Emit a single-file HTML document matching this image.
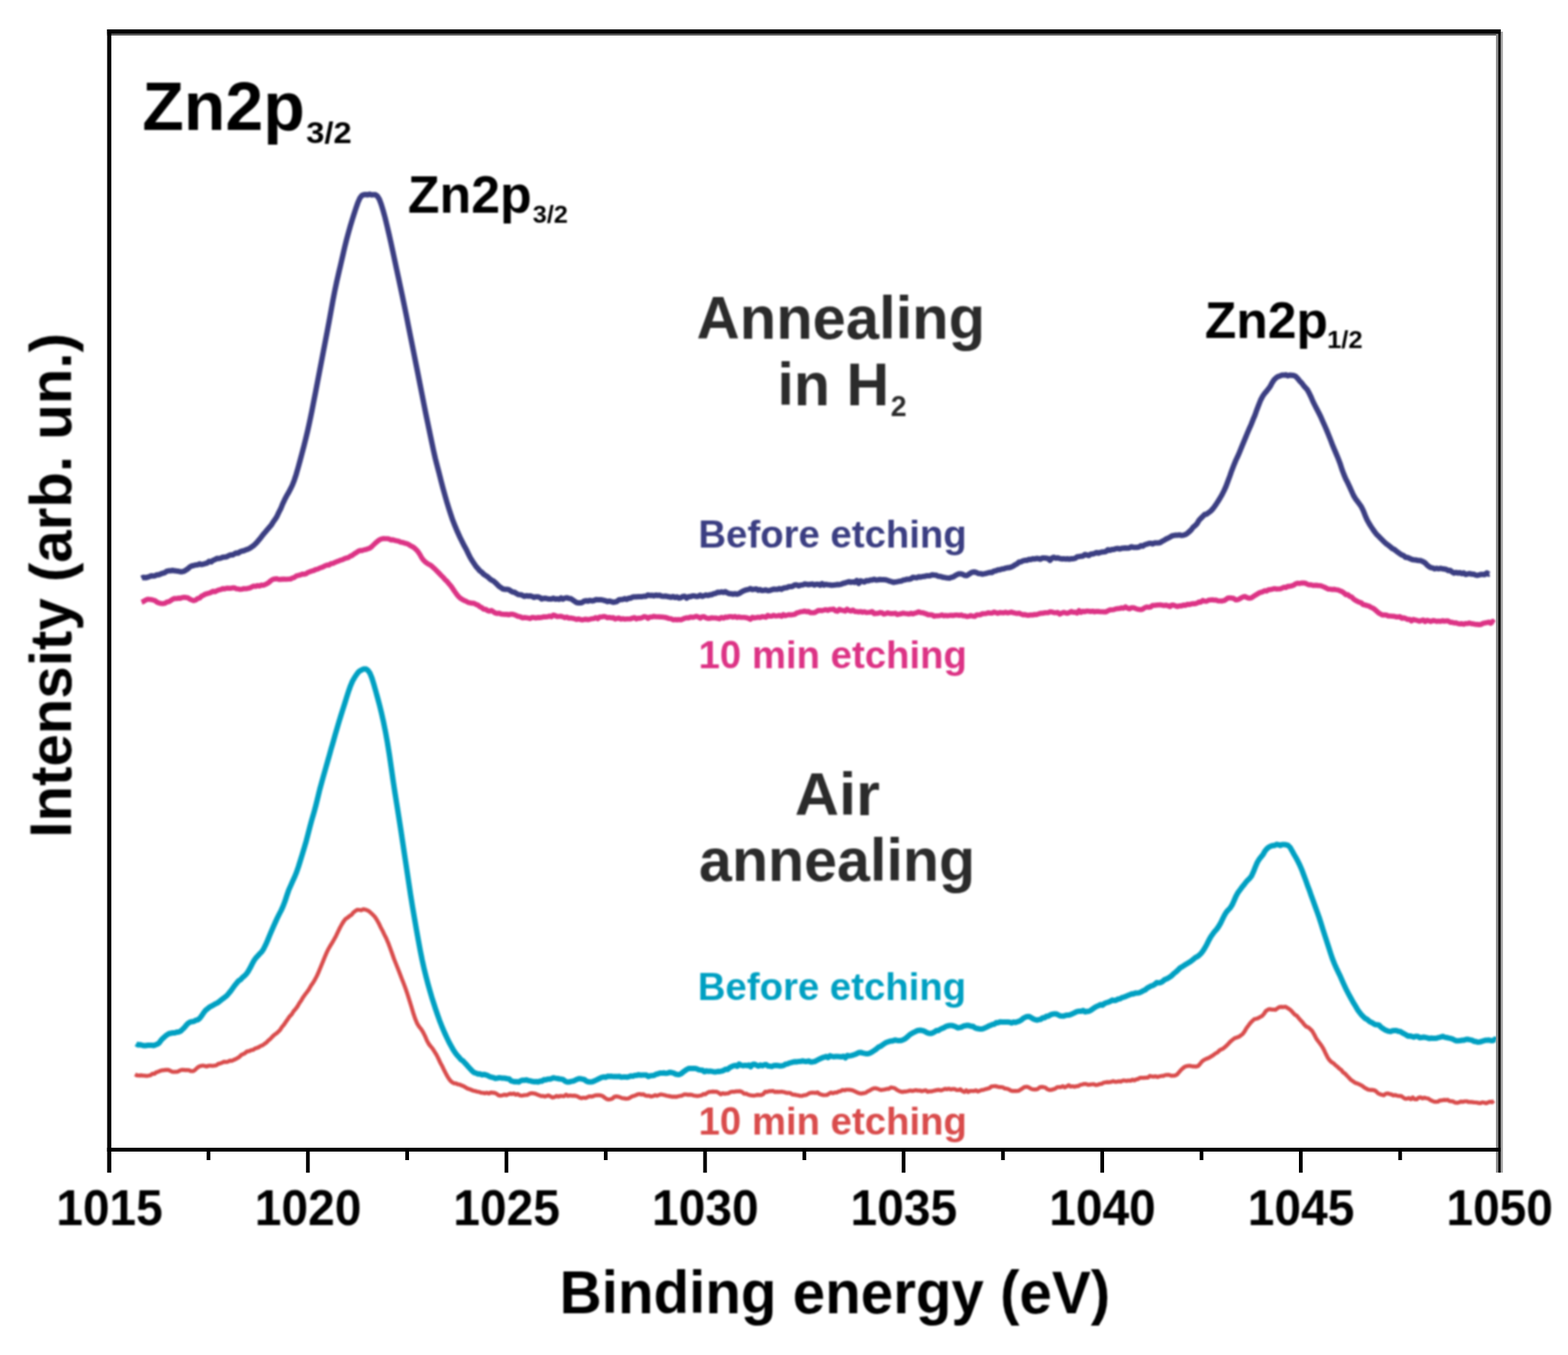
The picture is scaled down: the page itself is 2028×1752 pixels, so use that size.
<!DOCTYPE html>
<html lang="en">
<head>
<meta charset="utf-8">
<title>Zn2p XPS spectra</title>
<style>
html,body{margin:0;padding:0;background:#fff;}
body{width:2028px;height:1752px;overflow:hidden;font-family:"Liberation Sans",sans-serif;}
svg{display:block;}
.soft{filter:blur(0.8px);}
</style>
</head>
<body>
<svg width="2028" height="1752" viewBox="0 0 2028 1752">
<rect x="0" y="0" width="2028" height="1752" fill="#ffffff"/>
<g class="soft" fill="none" stroke-linejoin="round" stroke-linecap="butt">
<path d="M174.7,1388.9 L177.2,1390.4 L179.7,1390.7 L182.2,1390.4 L184.7,1390.7 L187.2,1390.8 L189.7,1391.2 L192.2,1390.8 L194.7,1390.3 L197.2,1388.3 L199.7,1388.4 L202.2,1386.4 L204.7,1385.7 L207.2,1384.6 L209.7,1383.9 L212.2,1383.7 L214.7,1383.4 L217.2,1383.3 L219.7,1384.2 L222.2,1385.6 L224.7,1386.0 L227.2,1385.8 L229.7,1385.7 L232.2,1384.4 L234.7,1383.4 L237.2,1383.4 L239.7,1383.6 L242.2,1383.5 L244.7,1383.9 L247.2,1385.0 L249.7,1384.9 L252.2,1383.5 L254.7,1381.0 L257.2,1379.1 L259.7,1378.2 L262.2,1377.8 L264.7,1378.3 L267.2,1379.0 L269.7,1378.0 L272.2,1377.8 L274.7,1378.2 L277.2,1377.8 L279.7,1377.5 L282.2,1375.6 L284.7,1375.0 L287.2,1374.1 L289.7,1372.8 L292.2,1373.1 L294.7,1372.8 L297.2,1371.4 L299.7,1371.7 L302.2,1370.5 L304.7,1369.4 L307.2,1368.0 L309.7,1366.5 L312.2,1363.9 L314.7,1362.9 L317.2,1361.4 L319.7,1359.4 L322.2,1359.1 L324.7,1357.9 L327.2,1357.5 L329.7,1355.8 L332.2,1355.0 L334.7,1354.0 L337.2,1352.4 L339.7,1351.5 L342.2,1349.7 L344.7,1347.9 L347.2,1345.3 L349.7,1343.2 L352.2,1340.5 L354.7,1338.1 L357.2,1336.4 L359.7,1334.3 L362.2,1331.7 L364.7,1327.9 L367.2,1325.0 L369.7,1321.3 L372.2,1317.7 L374.7,1314.1 L377.2,1311.6 L379.7,1307.6 L382.2,1304.8 L384.7,1301.4 L387.2,1297.0 L389.7,1293.4 L392.2,1289.2 L394.7,1285.8 L397.2,1282.5 L399.7,1279.1 L402.2,1274.6 L404.7,1271.0 L407.2,1266.8 L409.7,1262.1 L412.2,1256.6 L414.7,1250.5 L417.2,1244.5 L419.7,1238.2 L422.2,1232.4 L424.7,1227.2 L427.2,1222.9 L429.7,1218.8 L432.2,1214.5 L434.7,1209.9 L437.2,1204.6 L439.7,1199.5 L442.2,1195.0 L444.7,1191.0 L447.2,1187.9 L449.7,1186.4 L452.2,1184.4 L454.7,1182.8 L457.2,1179.7 L459.7,1177.7 L462.2,1176.4 L464.7,1176.5 L467.2,1177.0 L469.7,1175.7 L472.2,1176.0 L474.7,1176.9 L477.2,1178.1 L479.7,1180.4 L482.2,1182.7 L484.7,1185.3 L487.2,1188.9 L489.7,1193.4 L492.2,1198.7 L494.7,1203.4 L497.2,1208.6 L499.7,1213.5 L502.2,1219.4 L504.7,1226.2 L507.2,1233.0 L509.7,1240.1 L512.2,1246.4 L514.7,1252.6 L517.2,1259.0 L519.7,1265.6 L522.2,1271.9 L524.7,1278.6 L527.2,1286.0 L529.7,1294.0 L532.2,1302.1 L534.7,1310.4 L537.2,1317.8 L539.7,1323.6 L542.2,1327.6 L544.7,1330.6 L547.2,1334.6 L549.7,1339.6 L552.2,1345.5 L554.7,1350.0 L557.2,1353.1 L559.7,1356.1 L562.2,1360.1 L564.7,1364.1 L567.2,1369.1 L569.7,1374.6 L572.2,1379.1 L574.7,1384.3 L577.2,1389.1 L579.7,1393.5 L582.2,1397.0 L584.7,1399.3 L587.2,1400.7 L589.7,1400.9 L592.2,1402.0 L594.7,1402.4 L597.2,1403.6 L599.7,1404.4 L602.2,1405.9 L604.7,1407.4 L607.2,1408.2 L609.7,1409.3 L612.2,1410.2 L614.7,1410.8 L617.2,1411.5 L619.7,1411.8 L622.2,1412.8 L624.7,1413.0 L627.2,1413.6 L629.7,1412.9 L632.2,1413.9 L634.7,1412.7 L637.2,1412.8 L639.7,1413.1 L642.2,1414.2 L644.7,1416.1 L647.2,1416.7 L649.7,1416.3 L652.2,1415.3 L654.7,1416.1 L657.2,1415.1 L659.7,1414.1 L662.2,1414.6 L664.7,1413.9 L667.2,1415.4 L669.7,1414.6 L672.2,1416.2 L674.7,1416.7 L677.2,1416.2 L679.7,1416.0 L682.2,1415.7 L684.7,1414.3 L687.2,1413.6 L689.7,1413.7 L692.2,1414.1 L694.7,1415.2 L697.2,1416.1 L699.7,1417.1 L702.2,1417.0 L704.7,1417.9 L707.2,1417.0 L709.7,1416.4 L712.2,1417.8 L714.7,1419.1 L717.2,1418.4 L719.7,1417.0 L722.2,1418.0 L724.7,1417.0 L727.2,1417.2 L729.7,1417.3 L732.2,1415.3 L734.7,1417.1 L737.2,1416.4 L739.7,1416.8 L742.2,1416.7 L744.7,1416.9 L747.2,1417.7 L749.7,1419.2 L752.2,1419.9 L754.7,1419.3 L757.2,1419.7 L759.7,1418.8 L762.2,1417.5 L764.7,1417.9 L767.2,1417.4 L769.7,1416.4 L772.2,1416.2 L774.7,1416.1 L777.2,1416.3 L779.7,1417.4 L782.2,1419.4 L784.7,1421.0 L787.2,1421.7 L789.7,1421.3 L792.2,1420.4 L794.7,1418.0 L797.2,1417.6 L799.7,1418.0 L802.2,1418.9 L804.7,1419.9 L807.2,1420.1 L809.7,1420.6 L812.2,1420.5 L814.7,1419.4 L817.2,1417.8 L819.7,1417.1 L822.2,1416.1 L824.7,1415.0 L827.2,1414.5 L829.7,1415.3 L832.2,1414.9 L834.7,1416.5 L837.2,1416.9 L839.7,1416.8 L842.2,1417.8 L844.7,1417.3 L847.2,1416.0 L849.7,1416.9 L852.2,1415.9 L854.7,1415.0 L857.2,1415.5 L859.7,1416.0 L862.2,1416.7 L864.7,1417.1 L867.2,1417.6 L869.7,1418.1 L872.2,1417.9 L874.7,1418.3 L877.2,1417.5 L879.7,1417.0 L882.2,1416.6 L884.7,1415.2 L887.2,1415.0 L889.7,1415.6 L892.2,1415.3 L894.7,1415.6 L897.2,1416.5 L899.7,1416.8 L902.2,1417.2 L904.7,1416.7 L907.2,1416.3 L909.7,1414.6 L912.2,1415.0 L914.7,1413.0 L917.2,1411.8 L919.7,1411.7 L922.2,1411.4 L924.7,1411.7 L927.2,1411.7 L929.7,1413.1 L932.2,1415.0 L934.7,1413.5 L937.2,1414.3 L939.7,1413.9 L942.2,1413.7 L944.7,1412.0 L947.2,1411.5 L949.7,1411.7 L952.2,1411.0 L954.7,1411.2 L957.2,1410.9 L959.7,1411.9 L962.2,1414.2 L964.7,1414.0 L967.2,1415.1 L969.7,1416.0 L972.2,1416.3 L974.7,1416.7 L977.2,1416.2 L979.7,1415.6 L982.2,1415.8 L984.7,1415.9 L987.2,1414.7 L989.7,1411.5 L992.2,1411.9 L994.7,1410.8 L997.2,1410.9 L999.7,1410.5 L1002.2,1411.9 L1004.7,1411.6 L1007.2,1411.8 L1009.7,1411.6 L1012.2,1411.7 L1014.7,1412.2 L1017.2,1413.1 L1019.7,1413.2 L1022.2,1413.4 L1024.7,1415.1 L1027.2,1415.3 L1029.7,1415.9 L1032.2,1416.3 L1034.7,1416.9 L1037.2,1417.0 L1039.7,1416.1 L1042.2,1416.0 L1044.7,1414.7 L1047.2,1413.3 L1049.7,1412.9 L1052.2,1412.8 L1054.7,1413.2 L1057.2,1412.4 L1059.7,1414.4 L1062.2,1415.3 L1064.7,1415.9 L1067.2,1416.0 L1069.7,1415.7 L1072.2,1414.1 L1074.7,1412.7 L1077.2,1413.7 L1079.7,1412.7 L1082.2,1412.7 L1084.7,1411.3 L1087.2,1410.9 L1089.7,1409.3 L1092.2,1409.8 L1094.7,1409.0 L1097.2,1409.0 L1099.7,1409.2 L1102.2,1409.6 L1104.7,1410.7 L1107.2,1411.8 L1109.7,1413.1 L1112.2,1413.8 L1114.7,1413.9 L1117.2,1413.4 L1119.7,1413.0 L1122.2,1411.2 L1124.7,1410.1 L1127.2,1408.5 L1129.7,1407.3 L1132.2,1407.0 L1134.7,1407.7 L1137.2,1408.7 L1139.7,1409.4 L1142.2,1409.0 L1144.7,1408.6 L1147.2,1407.9 L1149.7,1407.8 L1152.2,1406.0 L1154.7,1406.5 L1157.2,1407.0 L1159.7,1408.9 L1162.2,1410.3 L1164.7,1411.4 L1167.2,1411.9 L1169.7,1411.4 L1172.2,1411.3 L1174.7,1410.8 L1177.2,1410.0 L1179.7,1410.6 L1182.2,1410.1 L1184.7,1409.5 L1187.2,1410.2 L1189.7,1410.0 L1192.2,1411.0 L1194.7,1410.2 L1197.2,1409.7 L1199.7,1411.6 L1202.2,1411.1 L1204.7,1411.1 L1207.2,1410.5 L1209.7,1409.9 L1212.2,1409.4 L1214.7,1409.2 L1217.2,1409.9 L1219.7,1409.0 L1222.2,1407.8 L1224.7,1408.5 L1227.2,1407.6 L1229.7,1408.7 L1232.2,1408.0 L1234.7,1408.1 L1237.2,1409.3 L1239.7,1409.5 L1242.2,1408.5 L1244.7,1410.7 L1247.2,1411.9 L1249.7,1409.8 L1252.2,1412.0 L1254.7,1410.5 L1257.2,1410.6 L1259.7,1410.7 L1262.2,1409.8 L1264.7,1411.3 L1267.2,1410.4 L1269.7,1409.4 L1272.2,1409.2 L1274.7,1408.2 L1277.2,1407.6 L1279.7,1406.9 L1282.2,1404.9 L1284.7,1404.5 L1287.2,1404.4 L1289.7,1404.9 L1292.2,1405.6 L1294.7,1405.5 L1297.2,1406.0 L1299.7,1407.5 L1302.2,1407.7 L1304.7,1408.4 L1307.2,1409.9 L1309.7,1410.7 L1312.2,1410.5 L1314.7,1410.6 L1317.2,1410.5 L1319.7,1409.0 L1322.2,1407.5 L1324.7,1405.6 L1327.2,1405.2 L1329.7,1405.5 L1332.2,1406.9 L1334.7,1408.3 L1337.2,1408.7 L1339.7,1408.7 L1342.2,1408.0 L1344.7,1405.9 L1347.2,1405.4 L1349.7,1405.7 L1352.2,1406.3 L1354.7,1408.4 L1357.2,1409.3 L1359.7,1409.2 L1362.2,1408.4 L1364.7,1407.8 L1367.2,1405.8 L1369.7,1405.5 L1372.2,1405.6 L1374.7,1404.4 L1377.2,1406.0 L1379.7,1404.7 L1382.2,1403.1 L1384.7,1405.0 L1387.2,1404.5 L1389.7,1405.2 L1392.2,1404.4 L1394.7,1404.4 L1397.2,1402.7 L1399.7,1402.3 L1402.2,1401.6 L1404.7,1401.6 L1407.2,1402.6 L1409.7,1402.3 L1412.2,1402.0 L1414.7,1401.8 L1417.2,1403.0 L1419.7,1402.6 L1422.2,1401.7 L1424.7,1401.5 L1427.2,1400.0 L1429.7,1399.5 L1432.2,1399.1 L1434.7,1399.3 L1437.2,1398.9 L1439.7,1397.9 L1442.2,1398.8 L1444.7,1398.7 L1447.2,1398.0 L1449.7,1398.6 L1452.2,1397.2 L1454.7,1397.2 L1457.2,1397.6 L1459.7,1397.0 L1462.2,1397.5 L1464.7,1396.0 L1467.2,1397.0 L1469.7,1395.6 L1472.2,1395.1 L1474.7,1393.6 L1477.2,1393.7 L1479.7,1393.6 L1482.2,1393.4 L1484.7,1393.4 L1487.2,1391.2 L1489.7,1391.9 L1492.2,1392.1 L1494.7,1391.6 L1497.2,1392.7 L1499.7,1391.7 L1502.2,1391.2 L1504.7,1391.2 L1507.2,1390.0 L1509.7,1389.8 L1512.2,1389.8 L1514.7,1390.8 L1517.2,1390.8 L1519.7,1390.7 L1522.2,1389.5 L1524.7,1386.6 L1527.2,1383.7 L1529.7,1381.4 L1532.2,1379.4 L1534.7,1378.5 L1537.2,1378.2 L1539.7,1378.2 L1542.2,1378.8 L1544.7,1378.9 L1547.2,1379.1 L1549.7,1378.2 L1552.2,1375.4 L1554.7,1372.4 L1557.2,1370.5 L1559.7,1369.2 L1562.2,1368.3 L1564.7,1367.1 L1567.2,1365.6 L1569.7,1363.8 L1572.2,1362.0 L1574.7,1360.7 L1577.2,1358.1 L1579.7,1356.8 L1582.2,1355.6 L1584.7,1353.5 L1587.2,1351.2 L1589.7,1348.4 L1592.2,1346.0 L1594.7,1344.0 L1597.2,1342.2 L1599.7,1341.4 L1602.2,1340.6 L1604.7,1338.8 L1607.2,1337.0 L1609.7,1333.6 L1612.2,1329.3 L1614.7,1326.0 L1617.2,1322.6 L1619.7,1320.1 L1622.2,1317.8 L1624.7,1317.2 L1627.2,1316.4 L1629.7,1315.0 L1632.2,1313.7 L1634.7,1311.0 L1637.2,1307.2 L1639.7,1305.6 L1642.2,1304.8 L1644.7,1305.4 L1647.2,1305.4 L1649.7,1305.6 L1652.2,1303.7 L1654.7,1302.1 L1657.2,1301.8 L1659.7,1302.1 L1662.2,1301.7 L1664.7,1302.9 L1667.2,1304.4 L1669.7,1306.5 L1672.2,1309.2 L1674.7,1311.9 L1677.2,1313.3 L1679.7,1316.4 L1682.2,1319.3 L1684.7,1321.9 L1687.2,1325.2 L1689.7,1327.5 L1692.2,1328.4 L1694.7,1330.7 L1697.2,1333.2 L1699.7,1337.5 L1702.2,1342.4 L1704.7,1346.0 L1707.2,1349.3 L1709.7,1352.8 L1712.2,1357.1 L1714.7,1362.5 L1717.2,1367.4 L1719.7,1370.9 L1722.2,1373.4 L1724.7,1374.7 L1727.2,1377.3 L1729.7,1379.2 L1732.2,1381.7 L1734.7,1383.4 L1737.2,1386.6 L1739.7,1388.2 L1742.2,1391.0 L1744.7,1393.5 L1747.2,1396.3 L1749.7,1397.9 L1752.2,1399.8 L1754.7,1400.7 L1757.2,1401.7 L1759.7,1402.8 L1762.2,1404.2 L1764.7,1406.3 L1767.2,1407.6 L1769.7,1408.9 L1772.2,1409.3 L1774.7,1409.2 L1777.2,1409.6 L1779.7,1410.9 L1782.2,1413.6 L1784.7,1414.7 L1787.2,1415.5 L1789.7,1416.1 L1792.2,1414.3 L1794.7,1413.8 L1797.2,1414.5 L1799.7,1415.1 L1802.2,1416.3 L1804.7,1415.9 L1807.2,1416.7 L1809.7,1417.2 L1812.2,1417.1 L1814.7,1418.9 L1817.2,1420.6 L1819.7,1420.6 L1822.2,1419.8 L1824.7,1421.4 L1827.2,1419.0 L1829.7,1421.2 L1832.2,1421.4 L1834.7,1419.3 L1837.2,1418.9 L1839.7,1420.2 L1842.2,1419.3 L1844.7,1420.0 L1847.2,1420.3 L1849.7,1422.2 L1852.2,1423.4 L1854.7,1424.4 L1857.2,1424.6 L1859.7,1424.5 L1862.2,1422.8 L1864.7,1422.8 L1867.2,1422.2 L1869.7,1422.3 L1872.2,1422.0 L1874.7,1423.7 L1877.2,1423.8 L1879.7,1424.4 L1882.2,1425.7 L1884.7,1426.0 L1887.2,1425.2 L1889.7,1424.3 L1892.2,1424.6 L1894.7,1424.0 L1897.2,1424.0 L1899.7,1425.0 L1902.2,1424.9 L1904.7,1425.1 L1907.2,1425.5 L1909.7,1425.5 L1912.2,1426.2 L1914.7,1426.4 L1917.2,1425.3 L1919.7,1425.7 L1922.2,1426.5 L1924.7,1425.4 L1927.2,1424.5 L1929.7,1425.2 L1932.1,1423.3" stroke="#d94c4c" stroke-width="5.2"/>
<path d="M176.0,1349.6 L178.5,1351.1 L181.0,1350.7 L183.5,1351.4 L186.0,1352.0 L188.5,1351.9 L191.0,1351.6 L193.5,1351.6 L196.0,1351.5 L198.5,1351.9 L201.0,1351.1 L203.5,1350.1 L206.0,1348.3 L208.5,1344.7 L211.0,1342.2 L213.5,1340.1 L216.0,1338.1 L218.5,1336.5 L221.0,1336.0 L223.5,1335.5 L226.0,1335.5 L228.5,1334.6 L231.0,1334.4 L233.5,1333.3 L236.0,1331.0 L238.5,1328.7 L241.0,1325.5 L243.5,1322.9 L246.0,1321.4 L248.5,1321.0 L251.0,1320.6 L253.5,1319.1 L256.0,1318.5 L258.5,1316.5 L261.0,1313.2 L263.5,1309.4 L266.0,1306.2 L268.5,1304.2 L271.0,1302.2 L273.5,1300.9 L276.0,1299.5 L278.5,1298.0 L281.0,1296.9 L283.5,1295.1 L286.0,1293.0 L288.5,1291.1 L291.0,1289.2 L293.5,1287.2 L296.0,1284.3 L298.5,1281.2 L301.0,1277.7 L303.5,1274.3 L306.0,1271.3 L308.5,1268.3 L311.0,1266.8 L313.5,1264.0 L316.0,1262.0 L318.5,1259.6 L321.0,1256.0 L323.5,1251.6 L326.0,1246.6 L328.5,1242.0 L331.0,1238.5 L333.5,1235.9 L336.0,1233.1 L338.5,1230.7 L341.0,1226.8 L343.5,1221.8 L346.0,1216.1 L348.5,1210.0 L351.0,1204.2 L353.5,1198.3 L356.0,1192.7 L358.5,1187.3 L361.0,1182.3 L363.5,1177.5 L366.0,1172.0 L368.5,1165.6 L371.0,1157.9 L373.5,1150.6 L376.0,1145.1 L378.5,1139.4 L381.0,1134.0 L383.5,1127.9 L386.0,1120.6 L388.5,1112.6 L391.0,1104.5 L393.5,1096.3 L396.0,1087.7 L398.5,1078.2 L401.0,1068.4 L403.5,1059.2 L406.0,1050.8 L408.5,1041.5 L411.0,1031.4 L413.5,1021.0 L416.0,1011.8 L418.5,1002.9 L421.0,994.1 L423.5,985.2 L426.0,976.6 L428.5,967.4 L431.0,959.0 L433.5,950.0 L436.0,941.4 L438.5,933.0 L441.0,924.9 L443.5,917.0 L446.0,909.1 L448.5,901.0 L451.0,893.2 L453.5,886.3 L456.0,880.5 L458.5,876.2 L461.0,872.4 L463.5,869.1 L466.0,867.1 L468.5,865.8 L471.0,864.9 L473.5,865.1 L476.0,866.9 L478.5,870.5 L481.0,876.6 L483.5,884.7 L486.0,893.6 L488.5,902.7 L491.0,912.2 L493.5,922.4 L496.0,933.6 L498.5,945.9 L501.0,959.7 L503.5,975.1 L506.0,992.2 L508.5,1009.8 L511.0,1026.1 L513.5,1041.8 L516.0,1057.6 L518.5,1073.6 L521.0,1090.2 L523.5,1106.9 L526.0,1123.6 L528.5,1140.2 L531.0,1156.7 L533.5,1172.2 L536.0,1186.8 L538.5,1201.3 L541.0,1215.4 L543.5,1228.8 L546.0,1241.3 L548.5,1252.4 L551.0,1262.7 L553.5,1272.2 L556.0,1281.0 L558.5,1289.6 L561.0,1297.3 L563.5,1305.1 L566.0,1312.4 L568.5,1319.4 L571.0,1325.8 L573.5,1331.8 L576.0,1337.5 L578.5,1342.9 L581.0,1348.1 L583.5,1352.5 L586.0,1357.0 L588.5,1360.8 L591.0,1364.1 L593.5,1366.8 L596.0,1369.9 L598.5,1371.4 L601.0,1374.1 L603.5,1376.7 L606.0,1379.7 L608.5,1382.4 L611.0,1385.0 L613.5,1387.0 L616.0,1387.7 L618.5,1388.7 L621.0,1388.6 L623.5,1389.7 L626.0,1389.2 L628.5,1389.9 L631.0,1390.8 L633.5,1392.2 L636.0,1392.8 L638.5,1393.4 L641.0,1394.4 L643.5,1394.0 L646.0,1393.4 L648.5,1393.9 L651.0,1393.9 L653.5,1394.3 L656.0,1394.8 L658.5,1395.0 L661.0,1397.6 L663.5,1398.2 L666.0,1398.7 L668.5,1398.6 L671.0,1399.0 L673.5,1397.4 L676.0,1396.7 L678.5,1396.7 L681.0,1396.3 L683.5,1397.3 L686.0,1397.6 L688.5,1398.3 L691.0,1398.7 L693.5,1398.5 L696.0,1399.0 L698.5,1397.8 L701.0,1397.9 L703.5,1396.0 L706.0,1396.3 L708.5,1395.3 L711.0,1395.3 L713.5,1394.6 L716.0,1393.6 L718.5,1394.1 L721.0,1394.5 L723.5,1395.0 L726.0,1395.3 L728.5,1395.9 L731.0,1397.9 L733.5,1398.9 L736.0,1399.0 L738.5,1398.4 L741.0,1397.9 L743.5,1396.9 L746.0,1395.7 L748.5,1394.7 L751.0,1394.8 L753.5,1395.4 L756.0,1396.0 L758.5,1398.0 L761.0,1398.8 L763.5,1399.0 L766.0,1398.8 L768.5,1397.7 L771.0,1396.6 L773.5,1395.3 L776.0,1394.2 L778.5,1392.9 L781.0,1392.6 L783.5,1392.9 L786.0,1391.6 L788.5,1391.7 L791.0,1391.6 L793.5,1392.1 L796.0,1392.1 L798.5,1392.1 L801.0,1391.7 L803.5,1392.7 L806.0,1392.6 L808.5,1392.4 L811.0,1392.8 L813.5,1392.2 L816.0,1391.1 L818.5,1391.6 L821.0,1390.4 L823.5,1390.4 L826.0,1389.5 L828.5,1390.2 L831.0,1389.9 L833.5,1390.1 L836.0,1390.1 L838.5,1391.9 L841.0,1391.0 L843.5,1390.7 L846.0,1390.4 L848.5,1389.0 L851.0,1388.5 L853.5,1387.4 L856.0,1387.6 L858.5,1387.2 L861.0,1387.8 L863.5,1387.6 L866.0,1386.6 L868.5,1386.8 L871.0,1387.4 L873.5,1388.7 L876.0,1389.2 L878.5,1389.4 L881.0,1388.3 L883.5,1386.2 L886.0,1384.4 L888.5,1382.6 L891.0,1381.5 L893.5,1381.4 L896.0,1381.5 L898.5,1381.4 L901.0,1381.9 L903.5,1383.1 L906.0,1383.5 L908.5,1383.8 L911.0,1385.8 L913.5,1384.6 L916.0,1385.2 L918.5,1384.9 L921.0,1385.4 L923.5,1385.9 L926.0,1385.9 L928.5,1385.3 L931.0,1385.4 L933.5,1384.9 L936.0,1383.9 L938.5,1382.5 L941.0,1382.8 L943.5,1380.6 L946.0,1379.2 L948.5,1378.1 L951.0,1377.6 L953.5,1378.7 L956.0,1375.8 L958.5,1377.3 L961.0,1378.0 L963.5,1377.4 L966.0,1377.8 L968.5,1377.1 L971.0,1379.2 L973.5,1376.3 L976.0,1376.0 L978.5,1377.4 L981.0,1378.5 L983.5,1377.1 L986.0,1378.0 L988.5,1376.8 L991.0,1376.5 L993.5,1378.3 L996.0,1378.6 L998.5,1379.0 L1001.0,1377.7 L1003.5,1377.5 L1006.0,1377.8 L1008.5,1378.3 L1011.0,1378.2 L1013.5,1377.6 L1016.0,1376.0 L1018.5,1375.6 L1021.0,1374.5 L1023.5,1373.8 L1026.0,1373.2 L1028.5,1372.8 L1031.0,1372.9 L1033.5,1372.4 L1036.0,1372.3 L1038.5,1371.8 L1041.0,1372.4 L1043.5,1372.4 L1046.0,1371.8 L1048.5,1373.2 L1051.0,1372.9 L1053.5,1372.6 L1056.0,1371.3 L1058.5,1370.0 L1061.0,1368.8 L1063.5,1367.7 L1066.0,1366.9 L1068.5,1365.9 L1071.0,1367.4 L1073.5,1365.1 L1076.0,1365.8 L1078.5,1366.4 L1081.0,1366.0 L1083.5,1366.1 L1086.0,1366.2 L1088.5,1366.5 L1091.0,1365.7 L1093.5,1367.7 L1096.0,1364.7 L1098.5,1365.3 L1101.0,1364.9 L1103.5,1364.2 L1106.0,1363.3 L1108.5,1362.2 L1111.0,1360.9 L1113.5,1360.8 L1116.0,1361.6 L1118.5,1362.1 L1121.0,1362.6 L1123.5,1362.2 L1126.0,1361.2 L1128.5,1359.7 L1131.0,1358.1 L1133.5,1356.3 L1136.0,1354.1 L1138.5,1353.1 L1141.0,1351.3 L1143.5,1349.6 L1146.0,1348.0 L1148.5,1347.2 L1151.0,1346.3 L1153.5,1346.1 L1156.0,1345.3 L1158.5,1344.8 L1161.0,1345.5 L1163.5,1345.6 L1166.0,1345.2 L1168.5,1344.3 L1171.0,1342.9 L1173.5,1340.8 L1176.0,1338.4 L1178.5,1336.7 L1181.0,1335.2 L1183.5,1334.1 L1186.0,1332.7 L1188.5,1332.2 L1191.0,1332.1 L1193.5,1332.6 L1196.0,1333.5 L1198.5,1335.1 L1201.0,1336.1 L1203.5,1336.2 L1206.0,1335.7 L1208.5,1334.4 L1211.0,1332.6 L1213.5,1332.5 L1216.0,1330.9 L1218.5,1329.8 L1221.0,1328.7 L1223.5,1327.1 L1226.0,1326.5 L1228.5,1325.9 L1231.0,1325.9 L1233.5,1326.6 L1236.0,1327.5 L1238.5,1328.9 L1241.0,1328.7 L1243.5,1328.1 L1246.0,1326.7 L1248.5,1326.2 L1251.0,1325.8 L1253.5,1326.1 L1256.0,1326.9 L1258.5,1327.0 L1261.0,1329.0 L1263.5,1329.8 L1266.0,1330.2 L1268.5,1330.6 L1271.0,1330.2 L1273.5,1329.2 L1276.0,1328.1 L1278.5,1326.8 L1281.0,1325.8 L1283.5,1324.6 L1286.0,1324.2 L1288.5,1322.3 L1291.0,1322.4 L1293.5,1321.3 L1296.0,1321.4 L1298.5,1321.6 L1301.0,1321.4 L1303.5,1321.4 L1306.0,1321.7 L1308.5,1322.7 L1311.0,1321.5 L1313.5,1322.1 L1316.0,1321.1 L1318.5,1320.2 L1321.0,1318.7 L1323.5,1316.6 L1326.0,1315.3 L1328.5,1314.4 L1331.0,1314.3 L1333.5,1315.6 L1336.0,1317.2 L1338.5,1318.3 L1341.0,1319.0 L1343.5,1318.4 L1346.0,1318.0 L1348.5,1316.0 L1351.0,1316.0 L1353.5,1313.9 L1356.0,1313.9 L1358.5,1312.3 L1361.0,1311.4 L1363.5,1310.9 L1366.0,1311.0 L1368.5,1312.2 L1371.0,1313.5 L1373.5,1313.8 L1376.0,1313.7 L1378.5,1312.7 L1381.0,1312.6 L1383.5,1312.2 L1386.0,1311.2 L1388.5,1310.1 L1391.0,1308.8 L1393.5,1307.9 L1396.0,1307.4 L1398.5,1307.6 L1401.0,1306.6 L1403.5,1308.3 L1406.0,1307.8 L1408.5,1307.5 L1411.0,1306.2 L1413.5,1304.4 L1416.0,1302.6 L1418.5,1301.2 L1421.0,1300.3 L1423.5,1298.9 L1426.0,1299.7 L1428.5,1297.5 L1431.0,1296.5 L1433.5,1295.8 L1436.0,1294.7 L1438.5,1293.1 L1441.0,1293.7 L1443.5,1293.3 L1446.0,1291.7 L1448.5,1291.4 L1451.0,1289.9 L1453.5,1289.3 L1456.0,1288.4 L1458.5,1287.3 L1461.0,1286.3 L1463.5,1285.1 L1466.0,1285.2 L1468.5,1284.0 L1471.0,1284.1 L1473.5,1283.6 L1476.0,1282.5 L1478.5,1281.1 L1481.0,1280.1 L1483.5,1277.8 L1486.0,1276.4 L1488.5,1274.9 L1491.0,1274.4 L1493.5,1272.8 L1496.0,1270.5 L1498.5,1270.9 L1501.0,1270.5 L1503.5,1269.1 L1506.0,1266.8 L1508.5,1265.9 L1511.0,1264.6 L1513.5,1263.1 L1516.0,1261.0 L1518.5,1258.5 L1521.0,1256.7 L1523.5,1254.4 L1526.0,1251.8 L1528.5,1250.2 L1531.0,1248.7 L1533.5,1247.0 L1536.0,1245.6 L1538.5,1244.1 L1541.0,1242.3 L1543.5,1240.4 L1546.0,1238.2 L1548.5,1237.0 L1551.0,1235.1 L1553.5,1232.7 L1556.0,1229.4 L1558.5,1225.4 L1561.0,1220.8 L1563.5,1215.7 L1566.0,1211.2 L1568.5,1207.7 L1571.0,1204.3 L1573.5,1201.6 L1576.0,1198.1 L1578.5,1193.9 L1581.0,1188.7 L1583.5,1183.7 L1586.0,1179.5 L1588.5,1176.6 L1591.0,1174.1 L1593.5,1170.2 L1596.0,1164.7 L1598.5,1159.0 L1601.0,1154.4 L1603.5,1151.0 L1606.0,1147.6 L1608.5,1144.6 L1611.0,1141.2 L1613.5,1138.3 L1616.0,1136.0 L1618.5,1132.9 L1621.0,1127.6 L1623.5,1121.3 L1626.0,1115.3 L1628.5,1111.2 L1631.0,1108.0 L1633.5,1105.0 L1636.0,1100.5 L1638.5,1097.5 L1641.0,1095.3 L1643.5,1094.1 L1646.0,1093.3 L1648.5,1093.2 L1651.0,1091.8 L1653.5,1092.3 L1656.0,1093.2 L1658.5,1091.9 L1661.0,1092.1 L1663.5,1092.3 L1666.0,1093.1 L1668.5,1095.6 L1671.0,1099.9 L1673.5,1104.5 L1676.0,1108.7 L1678.5,1113.4 L1681.0,1118.3 L1683.5,1124.1 L1686.0,1130.7 L1688.5,1137.4 L1691.0,1144.4 L1693.5,1150.9 L1696.0,1158.3 L1698.5,1165.0 L1701.0,1172.0 L1703.5,1178.9 L1706.0,1185.9 L1708.5,1193.6 L1711.0,1201.7 L1713.5,1209.5 L1716.0,1217.3 L1718.5,1224.9 L1721.0,1232.7 L1723.5,1240.2 L1726.0,1246.3 L1728.5,1252.0 L1731.0,1257.2 L1733.5,1262.3 L1736.0,1268.1 L1738.5,1273.6 L1741.0,1279.0 L1743.5,1283.9 L1746.0,1288.5 L1748.5,1293.0 L1751.0,1297.4 L1753.5,1301.4 L1756.0,1305.8 L1758.5,1309.1 L1761.0,1312.3 L1763.5,1314.8 L1766.0,1317.0 L1768.5,1318.2 L1771.0,1320.6 L1773.5,1321.9 L1776.0,1323.2 L1778.5,1324.7 L1781.0,1324.9 L1783.5,1325.4 L1786.0,1328.0 L1788.5,1329.8 L1791.0,1331.4 L1793.5,1332.4 L1796.0,1333.4 L1798.5,1333.8 L1801.0,1332.8 L1803.5,1332.6 L1806.0,1332.5 L1808.5,1333.4 L1811.0,1333.7 L1813.5,1335.4 L1816.0,1336.7 L1818.5,1338.0 L1821.0,1339.7 L1823.5,1339.4 L1826.0,1340.2 L1828.5,1341.0 L1831.0,1339.9 L1833.5,1339.9 L1836.0,1341.7 L1838.5,1341.4 L1841.0,1341.1 L1843.5,1341.3 L1846.0,1341.9 L1848.5,1342.8 L1851.0,1342.2 L1853.5,1342.5 L1856.0,1342.6 L1858.5,1342.2 L1861.0,1341.5 L1863.5,1340.8 L1866.0,1340.0 L1868.5,1341.1 L1871.0,1341.5 L1873.5,1342.1 L1876.0,1342.6 L1878.5,1343.3 L1881.0,1344.7 L1883.5,1345.7 L1886.0,1345.7 L1888.5,1345.6 L1891.0,1345.0 L1893.5,1344.9 L1896.0,1344.0 L1898.5,1343.8 L1901.0,1344.4 L1903.5,1344.9 L1906.0,1346.2 L1908.5,1346.7 L1911.0,1347.4 L1913.5,1347.2 L1916.0,1346.7 L1918.5,1345.8 L1921.0,1345.1 L1923.5,1345.1 L1926.0,1344.8 L1928.5,1345.5 L1931.0,1345.4 L1933.5,1343.8 L1934.4,1345.2" stroke="#00a0c2" stroke-width="7.0"/>
<path d="M183.1,778.6 L185.6,777.7 L188.1,776.0 L190.6,774.9 L193.1,775.0 L195.6,775.3 L198.1,775.9 L200.6,776.6 L203.1,778.6 L205.6,779.6 L208.1,780.3 L210.6,780.5 L213.1,780.1 L215.6,778.6 L218.1,778.1 L220.6,776.6 L223.1,775.0 L225.6,773.7 L228.1,774.0 L230.6,773.4 L233.1,773.6 L235.6,772.7 L238.1,772.3 L240.6,772.6 L243.1,773.0 L245.6,774.7 L248.1,775.8 L250.6,776.6 L253.1,775.9 L255.6,773.9 L258.1,773.3 L260.6,770.8 L263.1,769.7 L265.6,768.2 L268.1,767.5 L270.6,766.9 L273.1,765.9 L275.6,764.5 L278.1,765.1 L280.6,763.8 L283.1,762.7 L285.6,762.3 L288.1,761.1 L290.6,761.4 L293.1,760.5 L295.6,760.6 L298.1,760.7 L300.6,760.1 L303.1,760.0 L305.6,761.2 L308.1,761.5 L310.6,762.1 L313.1,761.7 L315.6,761.0 L318.1,761.2 L320.6,760.7 L323.1,760.2 L325.6,759.0 L328.1,757.8 L330.6,758.2 L333.1,757.1 L335.6,757.7 L338.1,756.4 L340.6,756.8 L343.1,755.7 L345.6,754.6 L348.1,752.8 L350.6,750.5 L353.1,749.0 L355.6,748.6 L358.1,748.3 L360.6,749.3 L363.1,749.1 L365.6,748.9 L368.1,748.9 L370.6,749.0 L373.1,748.7 L375.6,748.7 L378.1,747.4 L380.6,746.7 L383.1,744.8 L385.6,744.1 L388.1,743.6 L390.6,742.4 L393.1,742.4 L395.6,742.0 L398.1,740.3 L400.6,739.3 L403.1,738.4 L405.6,737.8 L408.1,736.5 L410.6,735.9 L413.1,734.8 L415.6,733.8 L418.1,732.9 L420.6,731.5 L423.1,730.6 L425.6,730.6 L428.1,728.8 L430.6,728.5 L433.1,727.3 L435.6,726.2 L438.1,725.3 L440.6,724.2 L443.1,723.6 L445.6,722.3 L448.1,721.4 L450.6,720.9 L453.1,719.1 L455.6,718.1 L458.1,716.2 L460.6,714.7 L463.1,712.9 L465.6,711.9 L468.1,711.9 L470.6,711.0 L473.1,710.6 L475.6,709.7 L478.1,708.9 L480.6,707.0 L483.1,704.5 L485.6,702.1 L488.1,700.0 L490.6,698.1 L493.1,697.0 L495.6,696.4 L498.1,696.5 L500.6,696.5 L503.1,696.8 L505.6,698.2 L508.1,697.9 L510.6,698.7 L513.1,699.3 L515.6,699.7 L518.1,700.9 L520.6,701.3 L523.1,702.2 L525.6,702.7 L528.1,703.8 L530.6,705.4 L533.1,706.7 L535.6,708.2 L538.1,710.4 L540.6,713.2 L543.1,717.0 L545.6,721.5 L548.1,724.7 L550.6,727.1 L553.1,728.8 L555.6,730.2 L558.1,731.7 L560.6,734.1 L563.1,736.3 L565.6,738.8 L568.1,741.4 L570.6,744.1 L573.1,746.4 L575.6,749.4 L578.1,751.6 L580.6,754.8 L583.1,757.5 L585.6,761.1 L588.1,764.9 L590.6,768.3 L593.1,771.3 L595.6,773.7 L598.1,775.2 L600.6,776.4 L603.1,777.5 L605.6,779.0 L608.1,779.4 L610.6,779.9 L613.1,780.0 L615.6,781.5 L618.1,782.3 L620.6,784.5 L623.1,785.6 L625.6,787.7 L628.1,787.7 L630.6,789.5 L633.1,790.2 L635.6,789.3 L638.1,791.0 L640.6,792.6 L643.1,793.3 L645.6,792.7 L648.1,793.9 L650.6,794.2 L653.1,794.4 L655.6,794.3 L658.1,795.0 L660.6,794.1 L663.1,794.3 L665.6,794.9 L668.1,796.1 L670.6,797.1 L673.1,797.5 L675.6,798.9 L678.1,798.4 L680.6,798.7 L683.1,799.1 L685.6,799.8 L688.1,798.2 L690.6,798.5 L693.1,799.1 L695.6,798.4 L698.1,798.6 L700.6,798.3 L703.1,797.5 L705.6,797.6 L708.1,797.5 L710.6,796.6 L713.1,797.5 L715.6,795.3 L718.1,796.0 L720.6,797.3 L723.1,797.0 L725.6,796.7 L728.1,797.7 L730.6,798.6 L733.1,797.9 L735.6,799.2 L738.1,799.0 L740.6,799.4 L743.1,799.9 L745.6,801.0 L748.1,800.2 L750.6,801.0 L753.1,801.6 L755.6,800.9 L758.1,800.6 L760.6,801.3 L763.1,800.6 L765.6,800.0 L768.1,799.7 L770.6,798.5 L773.1,800.0 L775.6,797.7 L778.1,797.7 L780.6,797.1 L783.1,797.6 L785.6,798.7 L788.1,798.2 L790.6,798.9 L793.1,798.5 L795.6,800.4 L798.1,799.6 L800.6,799.1 L803.1,800.5 L805.6,799.9 L808.1,800.6 L810.6,800.2 L813.1,800.2 L815.6,800.1 L818.1,799.1 L820.6,798.5 L823.1,800.3 L825.6,799.2 L828.1,799.4 L830.6,798.6 L833.1,797.3 L835.6,797.7 L838.1,799.6 L840.6,797.7 L843.1,797.8 L845.6,796.9 L848.1,797.5 L850.6,797.5 L853.1,797.6 L855.6,797.8 L858.1,797.9 L860.6,798.3 L863.1,799.0 L865.6,799.8 L868.1,800.0 L870.6,801.5 L873.1,801.1 L875.6,801.4 L878.1,801.1 L880.6,801.5 L883.1,800.4 L885.6,799.4 L888.1,798.8 L890.6,798.9 L893.1,797.7 L895.6,798.3 L898.1,797.7 L900.6,796.9 L903.1,797.7 L905.6,799.3 L908.1,797.5 L910.6,797.4 L913.1,798.9 L915.6,799.6 L918.1,799.5 L920.6,798.7 L923.1,799.0 L925.6,799.0 L928.1,799.5 L930.6,800.1 L933.1,798.3 L935.6,799.3 L938.1,797.8 L940.6,798.3 L943.1,797.2 L945.6,797.2 L948.1,798.0 L950.6,797.1 L953.1,798.4 L955.6,797.6 L958.1,798.2 L960.6,798.2 L963.1,798.2 L965.6,798.7 L968.1,799.5 L970.6,800.8 L973.1,798.2 L975.6,799.0 L978.1,798.6 L980.6,798.0 L983.1,798.4 L985.6,797.3 L988.1,797.5 L990.6,798.1 L993.1,795.7 L995.6,796.8 L998.1,796.7 L1000.6,795.6 L1003.1,796.5 L1005.6,796.3 L1008.1,795.6 L1010.6,796.9 L1013.1,794.7 L1015.6,796.1 L1018.1,795.4 L1020.6,794.8 L1023.1,795.1 L1025.6,794.7 L1028.1,794.3 L1030.6,792.5 L1033.1,791.9 L1035.6,791.0 L1038.1,790.8 L1040.6,790.1 L1043.1,791.0 L1045.6,790.5 L1048.1,792.1 L1050.6,792.2 L1053.1,792.1 L1055.6,791.1 L1058.1,789.4 L1060.6,789.2 L1063.1,789.6 L1065.6,788.9 L1068.1,788.2 L1070.6,789.3 L1073.1,788.0 L1075.6,788.0 L1078.1,787.6 L1080.6,789.7 L1083.1,790.4 L1085.6,787.9 L1088.1,788.9 L1090.6,789.3 L1093.1,790.1 L1095.6,787.6 L1098.1,789.4 L1100.6,790.1 L1103.1,788.8 L1105.6,790.6 L1108.1,790.7 L1110.6,791.3 L1113.1,790.7 L1115.6,791.6 L1118.1,791.0 L1120.6,792.0 L1123.1,791.8 L1125.6,791.5 L1128.1,790.8 L1130.6,793.4 L1133.1,793.1 L1135.6,793.0 L1138.1,791.9 L1140.6,792.3 L1143.1,794.0 L1145.6,793.4 L1148.1,792.3 L1150.6,793.2 L1153.1,793.4 L1155.6,793.3 L1158.1,792.9 L1160.6,794.6 L1163.1,794.1 L1165.6,793.6 L1168.1,792.7 L1170.6,793.2 L1173.1,793.5 L1175.6,794.0 L1178.1,792.9 L1180.6,793.8 L1183.1,792.9 L1185.6,792.2 L1188.1,791.0 L1190.6,792.1 L1193.1,792.2 L1195.6,793.0 L1198.1,793.7 L1200.6,795.0 L1203.1,794.9 L1205.6,795.0 L1208.1,796.8 L1210.6,796.3 L1213.1,796.2 L1215.6,796.0 L1218.1,795.1 L1220.6,796.2 L1223.1,795.7 L1225.6,796.2 L1228.1,795.8 L1230.6,795.6 L1233.1,795.9 L1235.6,795.2 L1238.1,795.3 L1240.6,795.7 L1243.1,795.1 L1245.6,796.2 L1248.1,796.3 L1250.6,797.1 L1253.1,796.8 L1255.6,795.9 L1258.1,796.7 L1260.6,797.0 L1263.1,795.1 L1265.6,795.0 L1268.1,794.9 L1270.6,793.5 L1273.1,793.5 L1275.6,793.3 L1278.1,792.3 L1280.6,792.8 L1283.1,792.7 L1285.6,791.4 L1288.1,792.2 L1290.6,793.0 L1293.1,791.9 L1295.6,792.3 L1298.1,792.4 L1300.6,791.6 L1303.1,792.5 L1305.6,792.0 L1308.1,791.4 L1310.6,792.3 L1313.1,792.8 L1315.6,793.2 L1318.1,792.8 L1320.6,794.0 L1323.1,794.9 L1325.6,794.6 L1328.1,795.4 L1330.6,795.6 L1333.1,795.0 L1335.6,795.2 L1338.1,794.5 L1340.6,794.8 L1343.1,793.8 L1345.6,793.0 L1348.1,792.9 L1350.6,792.4 L1353.1,792.3 L1355.6,792.2 L1358.1,791.1 L1360.6,791.3 L1363.1,792.1 L1365.6,792.2 L1368.1,791.9 L1370.6,794.1 L1373.1,792.8 L1375.6,791.7 L1378.1,792.4 L1380.6,792.9 L1383.1,792.0 L1385.6,790.6 L1388.1,791.7 L1390.6,791.5 L1393.1,792.7 L1395.6,789.6 L1398.1,791.8 L1400.6,790.4 L1403.1,790.9 L1405.6,790.0 L1408.1,790.2 L1410.6,790.7 L1413.1,790.2 L1415.6,791.1 L1418.1,790.6 L1420.6,790.6 L1423.1,791.0 L1425.6,791.0 L1428.1,791.1 L1430.6,791.2 L1433.1,789.7 L1435.6,788.6 L1438.1,788.5 L1440.6,788.3 L1443.1,787.3 L1445.6,786.9 L1448.1,786.8 L1450.6,785.9 L1453.1,786.4 L1455.6,784.6 L1458.1,786.2 L1460.6,787.3 L1463.1,785.8 L1465.6,785.7 L1468.1,786.5 L1470.6,787.5 L1473.1,787.9 L1475.6,788.3 L1478.1,787.5 L1480.6,785.8 L1483.1,784.7 L1485.6,785.2 L1488.1,784.9 L1490.6,782.9 L1493.1,782.8 L1495.6,782.4 L1498.1,782.3 L1500.6,782.1 L1503.1,782.5 L1505.6,783.0 L1508.1,782.5 L1510.6,783.2 L1513.1,784.3 L1515.6,782.3 L1518.1,782.4 L1520.6,783.5 L1523.1,784.2 L1525.6,783.2 L1528.1,783.4 L1530.6,782.4 L1533.1,782.7 L1535.6,781.4 L1538.1,781.7 L1540.6,781.0 L1543.1,780.5 L1545.6,780.6 L1548.1,779.8 L1550.6,778.4 L1553.1,778.6 L1555.6,776.4 L1558.1,777.3 L1560.6,777.5 L1563.1,776.0 L1565.6,775.7 L1568.1,775.5 L1570.6,776.0 L1573.1,775.9 L1575.6,777.0 L1578.1,777.0 L1580.6,777.1 L1583.1,776.6 L1585.6,775.1 L1588.1,773.3 L1590.6,773.0 L1593.1,773.2 L1595.6,773.8 L1598.1,775.6 L1600.6,775.5 L1603.1,774.4 L1605.6,772.9 L1608.1,771.6 L1610.6,771.4 L1613.1,772.8 L1615.6,773.5 L1618.1,773.2 L1620.6,771.6 L1623.1,769.9 L1625.6,768.5 L1628.1,766.9 L1630.6,765.9 L1633.1,765.2 L1635.6,763.8 L1638.1,764.2 L1640.6,762.5 L1643.1,762.4 L1645.6,761.8 L1648.1,761.1 L1650.6,761.6 L1653.1,761.5 L1655.6,761.5 L1658.1,760.4 L1660.6,759.3 L1663.1,759.7 L1665.6,758.1 L1668.1,758.1 L1670.6,757.5 L1673.1,756.7 L1675.6,754.9 L1678.1,754.1 L1680.6,754.5 L1683.1,753.9 L1685.6,753.7 L1688.1,754.1 L1690.6,755.3 L1693.1,756.3 L1695.6,756.1 L1698.1,757.0 L1700.6,756.7 L1703.1,756.9 L1705.6,757.2 L1708.1,757.2 L1710.6,758.2 L1713.1,759.2 L1715.6,760.5 L1718.1,761.7 L1720.6,761.7 L1723.1,762.2 L1725.6,761.9 L1728.1,762.5 L1730.6,762.8 L1733.1,763.9 L1735.6,764.9 L1738.1,766.5 L1740.6,768.9 L1743.1,768.8 L1745.6,771.0 L1748.1,771.8 L1750.6,774.5 L1753.1,776.1 L1755.6,777.5 L1758.1,778.7 L1760.6,779.5 L1763.1,781.8 L1765.6,782.3 L1768.1,783.0 L1770.6,783.6 L1773.1,785.2 L1775.6,786.2 L1778.1,788.0 L1780.6,790.3 L1783.1,792.5 L1785.6,793.9 L1788.1,795.2 L1790.6,795.1 L1793.1,795.2 L1795.6,796.4 L1798.1,796.5 L1800.6,796.8 L1803.1,796.9 L1805.6,797.6 L1808.1,797.7 L1810.6,797.4 L1813.1,799.5 L1815.6,798.8 L1818.1,799.7 L1820.6,800.9 L1823.1,800.8 L1825.6,802.9 L1828.1,800.9 L1830.6,801.6 L1833.1,802.3 L1835.6,803.3 L1838.1,802.4 L1840.6,801.6 L1843.1,803.7 L1845.6,802.0 L1848.1,802.7 L1850.6,803.6 L1853.1,802.4 L1855.6,802.6 L1858.1,803.5 L1860.6,803.0 L1863.1,803.4 L1865.6,802.5 L1868.1,803.3 L1870.6,802.8 L1873.1,802.9 L1875.6,804.6 L1878.1,804.6 L1880.6,805.5 L1883.1,805.2 L1885.6,806.3 L1888.1,806.7 L1890.6,806.4 L1893.1,807.1 L1895.6,806.2 L1898.1,806.2 L1900.6,805.5 L1903.1,806.4 L1905.6,806.6 L1908.1,807.2 L1910.6,807.4 L1913.1,807.6 L1915.6,807.4 L1918.1,806.0 L1920.6,805.4 L1923.1,804.9 L1925.6,804.4 L1928.1,805.9 L1930.6,803.5 L1932.1,805.3" stroke="#dc3385" stroke-width="6.6"/>
<path d="M183.1,747.7 L185.6,746.5 L188.1,747.0 L190.6,746.5 L193.1,745.6 L195.6,744.5 L198.1,744.7 L200.6,744.4 L203.1,743.2 L205.6,743.2 L208.1,742.0 L210.6,741.1 L213.1,740.5 L215.6,738.7 L218.1,738.1 L220.6,737.9 L223.1,737.6 L225.6,737.9 L228.1,738.3 L230.6,738.6 L233.1,739.2 L235.6,739.2 L238.1,738.6 L240.6,737.0 L243.1,735.3 L245.6,733.0 L248.1,731.7 L250.6,731.2 L253.1,730.5 L255.6,730.3 L258.1,729.0 L260.6,730.0 L263.1,729.3 L265.6,728.7 L268.1,727.9 L270.6,725.8 L273.1,726.5 L275.6,724.4 L278.1,723.4 L280.6,721.9 L283.1,722.2 L285.6,721.6 L288.1,720.5 L290.6,720.3 L293.1,720.1 L295.6,718.6 L298.1,717.5 L300.6,717.6 L303.1,716.2 L305.6,715.0 L308.1,715.2 L310.6,713.4 L313.1,712.5 L315.6,712.0 L318.1,710.9 L320.6,710.1 L323.1,708.9 L325.6,707.1 L328.1,705.3 L330.6,703.0 L333.1,700.3 L335.6,697.3 L338.1,694.1 L340.6,690.8 L343.1,688.0 L345.6,685.0 L348.1,682.2 L350.6,679.3 L353.1,675.3 L355.6,671.8 L358.1,667.9 L360.6,662.5 L363.1,657.7 L365.6,651.5 L368.1,646.2 L370.6,641.3 L373.1,637.1 L375.6,632.3 L378.1,627.3 L380.6,620.9 L383.1,613.3 L385.6,604.6 L388.1,595.5 L390.6,586.2 L393.1,576.6 L395.6,566.6 L398.1,556.1 L400.6,544.7 L403.1,532.8 L405.6,519.8 L408.1,507.3 L410.6,494.1 L413.1,481.1 L415.6,468.1 L418.1,455.1 L420.6,442.2 L423.1,429.1 L425.6,415.8 L428.1,402.2 L430.6,388.4 L433.1,375.6 L435.6,363.8 L438.1,352.9 L440.6,342.3 L443.1,331.4 L445.6,320.5 L448.1,310.4 L450.6,301.1 L453.1,292.2 L455.6,283.9 L458.1,276.2 L460.6,268.5 L463.1,261.4 L465.6,255.9 L468.1,252.8 L470.6,251.7 L473.1,251.6 L475.6,251.9 L478.1,251.0 L480.6,252.0 L483.1,251.7 L485.6,251.7 L488.1,253.6 L490.6,257.6 L493.1,264.2 L495.6,272.5 L498.1,281.6 L500.6,292.0 L503.1,302.6 L505.6,313.8 L508.1,325.2 L510.6,337.0 L513.1,348.7 L515.6,360.3 L518.1,372.1 L520.6,383.8 L523.1,395.9 L525.6,408.1 L528.1,420.9 L530.6,433.4 L533.1,445.9 L535.6,458.4 L538.1,471.0 L540.6,483.5 L543.1,496.2 L545.6,508.9 L548.1,521.6 L550.6,534.3 L553.1,546.2 L555.6,558.2 L558.1,570.2 L560.6,582.1 L563.1,593.1 L565.6,602.9 L568.1,612.4 L570.6,622.3 L573.1,631.9 L575.6,640.9 L578.1,649.6 L580.6,657.8 L583.1,665.4 L585.6,672.8 L588.1,679.1 L590.6,685.2 L593.1,690.8 L595.6,696.2 L598.1,701.1 L600.6,706.1 L603.1,710.5 L605.6,715.7 L608.1,720.8 L610.6,724.9 L613.1,728.7 L615.6,732.4 L618.1,735.2 L620.6,738.1 L623.1,739.8 L625.6,742.5 L628.1,744.1 L630.6,745.7 L633.1,748.1 L635.6,750.0 L638.1,751.1 L640.6,753.3 L643.1,755.8 L645.6,758.3 L648.1,759.9 L650.6,761.6 L653.1,761.9 L655.6,761.9 L658.1,762.4 L660.6,764.1 L663.1,765.5 L665.6,765.8 L668.1,767.5 L670.6,768.8 L673.1,768.9 L675.6,769.7 L678.1,771.1 L680.6,770.3 L683.1,770.8 L685.6,770.5 L688.1,771.1 L690.6,772.5 L693.1,771.7 L695.6,771.7 L698.1,772.5 L700.6,774.5 L703.1,773.7 L705.6,773.5 L708.1,774.2 L710.6,774.6 L713.1,774.6 L715.6,773.5 L718.1,774.7 L720.6,774.3 L723.1,774.9 L725.6,773.1 L728.1,774.7 L730.6,773.4 L733.1,772.9 L735.6,773.8 L738.1,774.0 L740.6,775.6 L743.1,777.4 L745.6,779.0 L748.1,779.6 L750.6,779.5 L753.1,779.0 L755.6,777.2 L758.1,776.8 L760.6,777.3 L763.1,776.3 L765.6,777.0 L768.1,776.5 L770.6,775.3 L773.1,775.5 L775.6,775.4 L778.1,775.6 L780.6,776.1 L783.1,776.8 L785.6,777.9 L788.1,777.2 L790.6,777.9 L793.1,778.7 L795.6,778.3 L798.1,777.6 L800.6,775.6 L803.1,775.3 L805.6,775.0 L808.1,774.1 L810.6,775.0 L813.1,773.6 L815.6,773.4 L818.1,772.1 L820.6,771.8 L823.1,771.8 L825.6,771.5 L828.1,771.4 L830.6,771.4 L833.1,770.9 L835.6,770.9 L838.1,769.3 L840.6,769.9 L843.1,769.7 L845.6,770.4 L848.1,769.5 L850.6,770.0 L853.1,769.6 L855.6,770.7 L858.1,771.1 L860.6,770.7 L863.1,771.2 L865.6,771.7 L868.1,772.2 L870.6,771.3 L873.1,772.6 L875.6,771.7 L878.1,773.3 L880.6,772.8 L883.1,771.3 L885.6,771.0 L888.1,773.3 L890.6,771.6 L893.1,771.4 L895.6,770.5 L898.1,770.6 L900.6,771.2 L903.1,770.9 L905.6,769.6 L908.1,771.1 L910.6,770.2 L913.1,769.3 L915.6,770.0 L918.1,769.1 L920.6,768.9 L923.1,767.6 L925.6,767.2 L928.1,765.8 L930.6,766.0 L933.1,765.3 L935.6,766.0 L938.1,765.0 L940.6,766.5 L943.1,767.5 L945.6,767.7 L948.1,768.3 L950.6,767.7 L953.1,768.3 L955.6,767.7 L958.1,766.0 L960.6,764.5 L963.1,763.4 L965.6,762.6 L968.1,762.1 L970.6,761.0 L973.1,762.3 L975.6,761.9 L978.1,761.5 L980.6,763.2 L983.1,762.3 L985.6,763.6 L988.1,763.3 L990.6,762.8 L993.1,763.7 L995.6,763.4 L998.1,762.6 L1000.6,761.7 L1003.1,761.9 L1005.6,762.1 L1008.1,761.1 L1010.6,762.0 L1013.1,760.5 L1015.6,760.0 L1018.1,759.7 L1020.6,758.4 L1023.1,758.6 L1025.6,757.8 L1028.1,756.2 L1030.6,756.2 L1033.1,757.6 L1035.6,756.4 L1038.1,756.3 L1040.6,755.1 L1043.1,755.4 L1045.6,756.0 L1048.1,755.5 L1050.6,755.1 L1053.1,756.4 L1055.6,755.5 L1058.1,755.4 L1060.6,756.7 L1063.1,754.6 L1065.6,756.6 L1068.1,755.6 L1070.6,756.0 L1073.1,756.2 L1075.6,756.7 L1078.1,756.5 L1080.6,756.3 L1083.1,755.7 L1085.6,755.9 L1088.1,755.4 L1090.6,754.2 L1093.1,753.7 L1095.6,752.8 L1098.1,752.1 L1100.6,752.9 L1103.1,752.4 L1105.6,753.0 L1108.1,750.7 L1110.6,754.4 L1113.1,751.0 L1115.6,751.9 L1118.1,752.5 L1120.6,750.7 L1123.1,751.1 L1125.6,750.0 L1128.1,749.9 L1130.6,749.0 L1133.1,750.0 L1135.6,749.7 L1138.1,749.2 L1140.6,749.6 L1143.1,749.6 L1145.6,749.7 L1148.1,750.5 L1150.6,751.4 L1153.1,752.1 L1155.6,752.9 L1158.1,752.6 L1160.6,752.1 L1163.1,751.6 L1165.6,751.3 L1168.1,750.1 L1170.6,749.8 L1173.1,748.9 L1175.6,749.0 L1178.1,748.4 L1180.6,746.5 L1183.1,746.8 L1185.6,747.0 L1188.1,745.8 L1190.6,746.2 L1193.1,745.5 L1195.6,745.3 L1198.1,744.6 L1200.6,744.5 L1203.1,744.4 L1205.6,743.2 L1208.1,743.5 L1210.6,743.7 L1213.1,745.0 L1215.6,745.2 L1218.1,746.0 L1220.6,746.5 L1223.1,746.9 L1225.6,747.2 L1228.1,747.4 L1230.6,746.5 L1233.1,745.9 L1235.6,744.1 L1238.1,742.8 L1240.6,741.9 L1243.1,742.0 L1245.6,742.8 L1248.1,744.1 L1250.6,744.2 L1253.1,742.5 L1255.6,740.8 L1258.1,739.7 L1260.6,739.6 L1263.1,740.4 L1265.6,741.6 L1268.1,741.7 L1270.6,742.4 L1273.1,741.9 L1275.6,741.3 L1278.1,740.7 L1280.6,740.0 L1283.1,740.3 L1285.6,738.4 L1288.1,738.0 L1290.6,736.8 L1293.1,736.7 L1295.6,735.8 L1298.1,735.5 L1300.6,734.6 L1303.1,734.1 L1305.6,733.9 L1308.1,733.1 L1310.6,731.9 L1313.1,730.1 L1315.6,729.0 L1318.1,726.7 L1320.6,726.4 L1323.1,725.2 L1325.6,724.6 L1328.1,724.5 L1330.6,723.3 L1333.1,723.6 L1335.6,722.5 L1338.1,722.8 L1340.6,722.0 L1343.1,722.3 L1345.6,723.1 L1348.1,721.5 L1350.6,721.5 L1353.1,721.8 L1355.6,722.3 L1358.1,724.5 L1360.6,721.6 L1363.1,720.6 L1365.6,721.7 L1368.1,721.3 L1370.6,722.1 L1373.1,722.7 L1375.6,722.4 L1378.1,722.9 L1380.6,722.5 L1383.1,723.1 L1385.6,722.4 L1388.1,722.4 L1390.6,721.8 L1393.1,720.0 L1395.6,719.6 L1398.1,719.2 L1400.6,719.0 L1403.1,717.0 L1405.6,717.5 L1408.1,718.3 L1410.6,716.5 L1413.1,716.3 L1415.6,715.6 L1418.1,714.4 L1420.6,715.3 L1423.1,714.3 L1425.6,713.7 L1428.1,713.5 L1430.6,713.0 L1433.1,710.7 L1435.6,711.6 L1438.1,710.5 L1440.6,710.4 L1443.1,709.5 L1445.6,709.1 L1448.1,709.8 L1450.6,709.0 L1453.1,708.7 L1455.6,708.5 L1458.1,708.7 L1460.6,708.5 L1463.1,706.9 L1465.6,707.7 L1468.1,707.8 L1470.6,707.7 L1473.1,707.3 L1475.6,705.6 L1478.1,706.2 L1480.6,704.3 L1483.1,703.7 L1485.6,702.8 L1488.1,702.4 L1490.6,703.3 L1493.1,702.1 L1495.6,702.0 L1498.1,702.1 L1500.6,701.5 L1503.1,699.8 L1505.6,698.6 L1508.1,697.0 L1510.6,695.8 L1513.1,694.6 L1515.6,693.0 L1518.1,692.4 L1520.6,692.0 L1523.1,692.0 L1525.6,691.6 L1528.1,692.3 L1530.6,692.0 L1533.1,691.2 L1535.6,689.7 L1538.1,687.5 L1540.6,685.2 L1543.1,681.8 L1545.6,679.8 L1548.1,677.3 L1550.6,672.9 L1553.1,670.3 L1555.6,667.8 L1558.1,665.3 L1560.6,664.8 L1563.1,662.9 L1565.6,661.2 L1568.1,658.5 L1570.6,655.3 L1573.1,651.7 L1575.6,647.9 L1578.1,643.7 L1580.6,639.4 L1583.1,634.5 L1585.6,629.0 L1588.1,622.3 L1590.6,615.6 L1593.1,608.4 L1595.6,601.9 L1598.1,595.8 L1600.6,590.6 L1603.1,584.8 L1605.6,578.7 L1608.1,572.7 L1610.6,566.6 L1613.1,560.5 L1615.6,554.7 L1618.1,549.1 L1620.6,542.7 L1623.1,536.8 L1625.6,529.7 L1628.1,523.2 L1630.6,517.0 L1633.1,512.3 L1635.6,508.8 L1638.1,505.9 L1640.6,502.7 L1643.1,499.2 L1645.6,494.4 L1648.1,490.8 L1650.6,488.4 L1653.1,486.8 L1655.6,486.1 L1658.1,485.1 L1660.6,485.1 L1663.1,484.6 L1665.6,485.9 L1668.1,485.0 L1670.6,485.3 L1673.1,485.6 L1675.6,486.6 L1678.1,489.0 L1680.6,492.2 L1683.1,494.7 L1685.6,497.9 L1688.1,500.9 L1690.6,503.6 L1693.1,508.0 L1695.6,513.1 L1698.1,519.0 L1700.6,524.0 L1703.1,528.9 L1705.6,533.6 L1708.1,538.6 L1710.6,544.4 L1713.1,549.9 L1715.6,555.6 L1718.1,561.8 L1720.6,568.0 L1723.1,574.6 L1725.6,580.7 L1728.1,586.5 L1730.6,592.5 L1733.1,598.9 L1735.6,606.7 L1738.1,613.4 L1740.6,619.4 L1743.1,624.2 L1745.6,629.5 L1748.1,635.2 L1750.6,640.6 L1753.1,644.8 L1755.6,648.1 L1758.1,651.5 L1760.6,655.0 L1763.1,660.0 L1765.6,666.3 L1768.1,672.1 L1770.6,676.6 L1773.1,680.6 L1775.6,684.4 L1778.1,687.9 L1780.6,691.2 L1783.1,693.4 L1785.6,696.1 L1788.1,698.5 L1790.6,700.9 L1793.1,703.3 L1795.6,704.9 L1798.1,706.9 L1800.6,709.2 L1803.1,710.2 L1805.6,712.3 L1808.1,714.2 L1810.6,716.0 L1813.1,717.6 L1815.6,718.6 L1818.1,720.7 L1820.6,720.8 L1823.1,722.0 L1825.6,723.2 L1828.1,723.7 L1830.6,723.9 L1833.1,724.5 L1835.6,724.8 L1838.1,725.1 L1840.6,726.2 L1843.1,727.8 L1845.6,730.4 L1848.1,732.4 L1850.6,733.9 L1853.1,734.4 L1855.6,735.5 L1858.1,734.8 L1860.6,735.5 L1863.1,734.8 L1865.6,735.5 L1868.1,735.8 L1870.6,736.2 L1873.1,737.7 L1875.6,737.5 L1878.1,739.5 L1880.6,741.0 L1883.1,740.2 L1885.6,741.0 L1888.1,740.4 L1890.6,741.7 L1893.1,740.8 L1895.6,742.8 L1898.1,742.2 L1900.6,741.6 L1903.1,742.3 L1905.6,742.4 L1908.1,743.3 L1910.6,744.0 L1913.1,743.3 L1915.6,742.7 L1918.1,742.7 L1920.6,742.9 L1923.1,740.8 L1925.6,742.4 L1926.4,742.2" stroke="#3b3e82" stroke-width="7.0"/>
</g>
<g stroke="#000" fill="none" stroke-linecap="butt">
<line x1="138.6" y1="44.8" x2="1940.9" y2="44.8" stroke-width="2.2" stroke="#606060"/>
<line x1="1936.4" y1="43.7" x2="1936.4" y2="1516.3" stroke-width="3.1" stroke="#8a8a8a"/>
<line x1="1942.3" y1="41" x2="1942.3" y2="1516.3" stroke-width="2.8" stroke="#a0a0a0"/>
<line x1="138.6" y1="40.85" x2="1940.9" y2="40.85" stroke-width="5.7"/>
<line x1="138.6" y1="1486.5" x2="1940.9" y2="1486.5" stroke-width="5.0"/>
<line x1="141.3" y1="38" x2="141.3" y2="1516.3" stroke-width="5.4"/>
<line x1="1939.4" y1="38" x2="1939.4" y2="1516.3" stroke-width="3.0"/>
<line x1="398.2" y1="1486.5" x2="398.2" y2="1516.3" stroke-width="4.8"/>
<line x1="655.0" y1="1486.5" x2="655.0" y2="1516.3" stroke-width="4.8"/>
<line x1="911.9" y1="1486.5" x2="911.9" y2="1516.3" stroke-width="4.8"/>
<line x1="1168.7" y1="1486.5" x2="1168.7" y2="1516.3" stroke-width="4.8"/>
<line x1="1425.6" y1="1486.5" x2="1425.6" y2="1516.3" stroke-width="4.8"/>
<line x1="1682.4" y1="1486.5" x2="1682.4" y2="1516.3" stroke-width="4.8"/>
<line x1="269.7" y1="1486.5" x2="269.7" y2="1500" stroke-width="4.8"/>
<line x1="526.6" y1="1486.5" x2="526.6" y2="1500" stroke-width="4.8"/>
<line x1="783.4" y1="1486.5" x2="783.4" y2="1500" stroke-width="4.8"/>
<line x1="1040.3" y1="1486.5" x2="1040.3" y2="1500" stroke-width="4.8"/>
<line x1="1297.2" y1="1486.5" x2="1297.2" y2="1500" stroke-width="4.8"/>
<line x1="1554.0" y1="1486.5" x2="1554.0" y2="1500" stroke-width="4.8"/>
<line x1="1810.9" y1="1486.5" x2="1810.9" y2="1500" stroke-width="4.8"/>
</g>
<g class="soft" font-family="'Liberation Sans', sans-serif" font-weight="bold" fill="#000">
<text transform="translate(1079.8,1698.4) scale(1.0,1.02)" font-size="75.4" text-anchor="middle">Binding energy (eV)</text>
<text transform="translate(92.2,756.9) rotate(-90) scale(1.0,1.02)" font-size="75.3" text-anchor="middle">Intensity (arb. un.)</text>
<text transform="translate(184.0,168.2) scale(1.0,1.012)" font-size="88.0">Zn2p<tspan x="211.9" y="16.6" font-size="38.64" textLength="59.08" lengthAdjust="spacingAndGlyphs">3/2</tspan></text>
<text transform="translate(527.6,274.8) scale(1.0,1.012)" font-size="67.0">Zn2p<tspan x="161.4" y="12.55" font-size="31.11" textLength="45.59" lengthAdjust="spacingAndGlyphs">3/2</tspan></text>
<text transform="translate(1558.3,437.2) scale(1.0,1.012)" font-size="66.7">Zn2p<tspan x="158.2" y="12.85" font-size="31.3" textLength="45.87" lengthAdjust="spacingAndGlyphs">1/2</tspan></text>
<text transform="translate(1087.6,437.7) scale(1.0,1.01)" font-size="77.2" text-anchor="middle" fill="#2b2b2b">Annealing</text>
<text transform="translate(1005.4,523.6) scale(1.0,1.01)" font-size="76.5" fill="#2b2b2b">in H<tspan x="146.6" y="14.26" font-size="36.63" textLength="20.57" lengthAdjust="spacingAndGlyphs">2</tspan></text>
<text transform="translate(1083.0,1053.9) scale(1.035,1.01)" font-size="76.5" text-anchor="middle" fill="#2b2b2b">Air</text>
<text transform="translate(1082.6,1138.8) scale(1.0,1.01)" font-size="76.5" text-anchor="middle" fill="#2b2b2b">annealing</text>
<text transform="translate(903.3,708.2) scale(1.0,1.01)" font-size="49.6" fill="#3b3e82">Before etching</text>
<text transform="translate(903.5,864.0) scale(1.0,1.01)" font-size="49.6" fill="#dc3385">10 min etching</text>
<text transform="translate(902.5,1293.3) scale(1.0,1.01)" font-size="49.6" fill="#00a0c2">Before etching</text>
<text transform="translate(903.5,1466.8) scale(1.0,1.01)" font-size="49.6" fill="#d94c4c">10 min etching</text>
<text transform="translate(141.6,1584.3) scale(1.0,1.05)" font-size="62.0" text-anchor="middle">1015</text>
<text transform="translate(398.5,1584.3) scale(1.0,1.05)" font-size="62.0" text-anchor="middle">1020</text>
<text transform="translate(655.3,1584.3) scale(1.0,1.05)" font-size="62.0" text-anchor="middle">1025</text>
<text transform="translate(912.2,1584.3) scale(1.0,1.05)" font-size="62.0" text-anchor="middle">1030</text>
<text transform="translate(1169.0,1584.3) scale(1.0,1.05)" font-size="62.0" text-anchor="middle">1035</text>
<text transform="translate(1425.9,1584.3) scale(1.0,1.05)" font-size="62.0" text-anchor="middle">1040</text>
<text transform="translate(1682.7,1584.3) scale(1.0,1.05)" font-size="62.0" text-anchor="middle">1045</text>
<text transform="translate(1939.6,1584.3) scale(1.0,1.05)" font-size="62.0" text-anchor="middle">1050</text>
</g>
</svg>
</body>
</html>
